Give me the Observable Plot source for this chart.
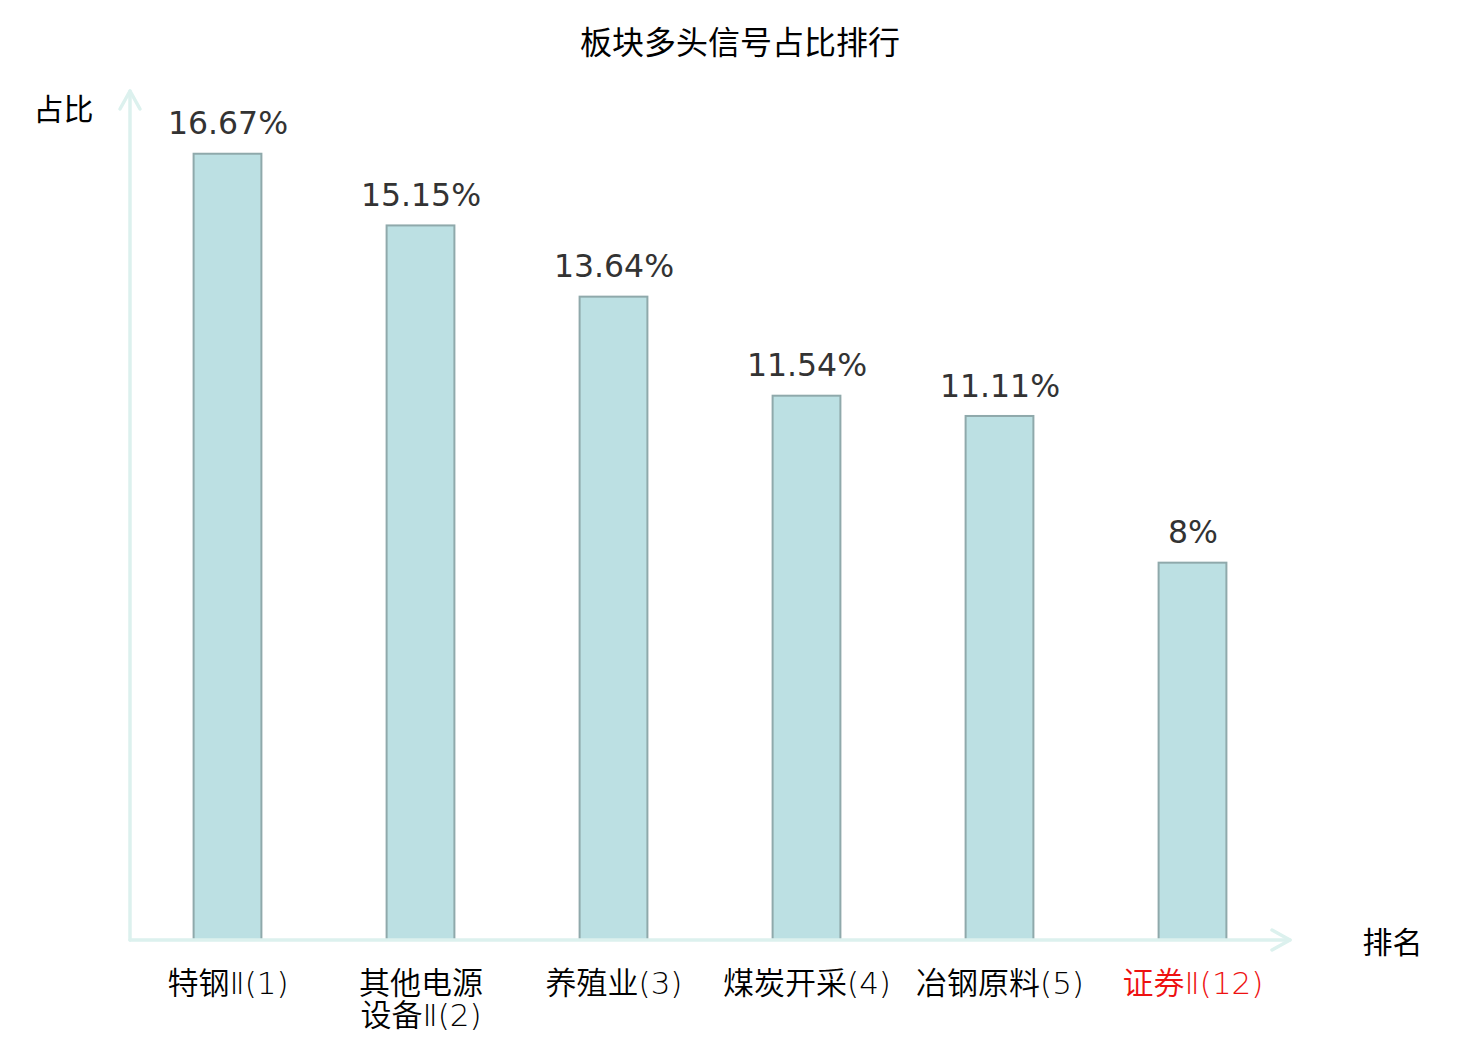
<!DOCTYPE html>
<html>
<head>
<meta charset="utf-8">
<script src="https://cdn.jsdelivr.net/npm/d3@7"></script>
<script src="https://cdn.jsdelivr.net/npm/@observablehq/plot@0.6"></script>
<style>
  html, body { margin: 0; padding: 0; background: #fff; }
  #title { height: 70px; width: 1480px; text-align: center; font-family: "Noto Sans CJK SC", sans-serif; font-size: 32px; line-height: 80px; color: #000; }
  #chart svg { display: block; }
</style>
</head>
<body>
<div id="title">板块多头信号占比排行</div>
<div id="chart"></div>
<script>
const categories = ["特钢Ⅱ(1)", "其他电源\n设备Ⅱ(2)", "养殖业(3)", "煤炭开采(4)", "冶钢原料(5)", "证券Ⅱ(12)"];
const values = [16.67, 15.15, 13.64, 11.54, 11.11, 8];
const valueLabels = ["16.67%", "15.15%", "13.64%", "11.54%", "11.11%", "8%"];
const highlighted = [false, false, false, false, false, true];

const yAxisTitle = "占比";
const xAxisTitle = "排名";

const table = categories.map((c, i) => ({cat: c, value: values[i], label: valueLabels[i], hi: highlighted[i]}));

const axisColor = "#dcf1ee";

function axesWithArrows(index, scales, values, dims) {
  const g = d3.create("svg:g");
  const left = dims.marginLeft, right = dims.width - dims.marginRight;
  const top = dims.marginTop, bottom = dims.height - dims.marginBottom;
  const common = sel => sel.attr("fill", "none").attr("stroke", axisColor).attr("stroke-width", 3.5).attr("stroke-linecap", "round").attr("stroke-linejoin", "round");
  common(g.append("path").attr("d", `M${left},${bottom}V${top}`));
  common(g.append("path").attr("d", `M${left - 10},${top + 18}L${left},${top}L${left + 10},${top + 18}`));
  common(g.append("path").attr("d", `M${left},${bottom}H${right}`));
  common(g.append("path").attr("d", `M${right - 18},${bottom - 10}L${right},${bottom}L${right - 18},${bottom + 10}`));
  return g.node();
}

const plot = Plot.plot({
  width: 1480,
  height: 970,
  marginLeft: 130,
  marginRight: 190,
  marginTop: 21,
  marginBottom: 100,
  x: {domain: categories, padding: 0, axis: null},
  y: {domain: [0, 18], axis: null},
  style: {fontFamily: "Noto Sans CJK SC, sans-serif"},
  marks: [
    Plot.barY(table, {x: "cat", y: "value", fill: "#bce0e3", stroke: "#8fa9ab", strokeWidth: 2, insetLeft: 62.6, insetRight: 62.6}),
    axesWithArrows,
    Plot.text(table, {x: "cat", y: "value", text: "label", dy: -30, fontSize: 31.5, fill: "#333", fontFamily: "DejaVu Sans, sans-serif"}),
    Plot.text(table, {x: "cat", text: "cat", frameAnchor: "bottom", lineAnchor: "top", dy: 30, fontSize: 31, fontWeight: 350, lineHeight: 1.05, fill: d => d.hi ? "#ee1111" : "#000", fontFamily: "DejaVu Sans, Noto Sans CJK SC, sans-serif"}),
    Plot.text([yAxisTitle], {frameAnchor: "top-left", text: d => d, textAnchor: "middle", dx: -67, dy: 7, fontSize: 30, fill: "#000", fontFamily: "Noto Sans CJK SC, sans-serif"}),
    Plot.text([xAxisTitle], {frameAnchor: "bottom-right", text: d => d, textAnchor: "middle", dx: 102, dy: 12, fontSize: 30, fill: "#000", fontFamily: "Noto Sans CJK SC, sans-serif"})
  ]
});
document.getElementById("chart").appendChild(plot);
</script>
</body>
</html>
